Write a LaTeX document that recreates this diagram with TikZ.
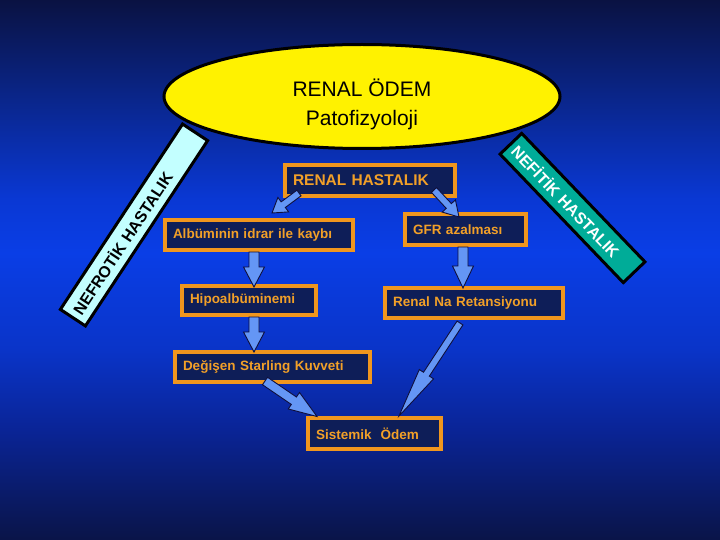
\documentclass[tikz,border=0pt]{standalone}
\usepackage{fontspec}
\setmainfont{Liberation Sans}
\usetikzlibrary{shapes.geometric,calc}
\definecolor{bgA}{RGB}{10,20,72}
\definecolor{bgB}{RGB}{10,26,100}
\definecolor{bgC}{RGB}{10,36,150}
\definecolor{bgD}{RGB}{10,52,200}
\definecolor{bgE}{RGB}{10,62,230}
\definecolor{bgF}{RGB}{10,56,212}
\definecolor{bgG}{RGB}{10,38,140}
\definecolor{bgH}{RGB}{10,18,66}
\definecolor{boxorange}{RGB}{240,150,30}
\definecolor{boxnavy}{RGB}{14,30,88}
\definecolor{textorange}{RGB}{242,160,40}
\definecolor{arrowfill}{RGB}{100,150,245}
\definecolor{arrowline}{RGB}{15,15,60}
\definecolor{bandcyan}{RGB}{195,255,255}
\definecolor{bandteal}{RGB}{0,172,152}
\pgfdeclareverticalshading{bgshade}{100bp}{color(0bp)=(bgA); color(25bp)=(bgA); color(28.7bp)=(bgB); color(35.2bp)=(bgC); color(42.6bp)=(bgD); color(51.6bp)=(bgE); color(56.5bp)=(bgF); color(65.7bp)=(bgG); color(75bp)=(bgH); color(100bp)=(bgH)}
\tikzset{
  flowbox/.style={draw=boxorange, fill=boxnavy, line width=4pt, text=textorange,
    font=\fontsize{13.5}{16}\selectfont\bfseries, inner xsep=8pt, inner ysep=0pt, align=left},
  band/.style={draw=black, line width=3pt, inner xsep=6pt, inner ysep=0pt,
    minimum height=30pt, align=left, font=\fontsize{16}{18}\selectfont\bfseries},
  blockarr/.style={fill=arrowfill, draw=arrowline, line width=0.9pt, line join=miter}
}
\newcommand\bkarrow[5]{%
  \coordinate (bkhb) at ($(#2)!#5!(#1)$);
  \filldraw[blockarr] ($(#1)!#3!90:(#2)$) -- ($(bkhb)!#3!90:(#2)$) -- ($(bkhb)!#4!90:(#2)$)
    -- (#2) -- ($(bkhb)!#4!-90:(#2)$) -- ($(bkhb)!#3!-90:(#2)$) -- ($(#1)!#3!-90:(#2)$) -- cycle;
}
\begin{document}
\begin{tikzpicture}[x=1pt,y=-1pt]
\useasboundingbox (0,0) rectangle (720,540);
\shade[shading=bgshade] (0,0) rectangle (720,540);

% side bands
\node[band, fill=bandcyan, text=black, rotate=56.6, minimum width=222pt, text width=210pt]
  (nefrotik) at (134,225) {NEFROTİK HASTALIK};
\node[band, fill=bandteal, text=white, rotate=-46.2, minimum width=178pt, text width=166pt]
  (nefritik) at (572.5,208) {NEFİTİK HASTALIK};

% title ellipse
\node[ellipse, draw=black, line width=3pt, fill=yellow, inner sep=2pt,
  minimum width=396pt, minimum height=104pt, align=center,
  font=\fontsize{21}{28.5}\selectfont] (title) at (362,96.5)
  {\rule{0pt}{33pt}RENAL ÖDEM\\Patofizyoloji};

% boxes
\node[flowbox, minimum width=170pt, minimum height=31pt, text width=154pt,
  font=\fontsize{15.5}{18}\selectfont\bfseries] (rh) at (370,180.5) {RENAL HASTALIK};
\node[flowbox, minimum width=188pt, minimum height=30pt, text width=172pt] (alb) at (259,235) {Albüminin idrar ile kaybı};
\node[flowbox, minimum width=121pt, minimum height=31pt, text width=105pt] (gfr) at (465.5,229.5) {GFR azalması};
\node[flowbox, minimum width=134pt, minimum height=29pt, text width=118pt] (hipo) at (249,300.5) {Hipoalbüminemi};
\node[flowbox, minimum width=178pt, minimum height=30pt, text width=162pt] (na) at (474,303) {Renal Na Retansiyonu};
\node[flowbox, minimum width=195pt, minimum height=30pt, text width=179pt] (deg) at (272.5,367) {Değişen Starling Kuvveti};
\node[flowbox, minimum width=133pt, minimum height=31pt, text width=117pt] (sis) at (374.5,433.5) {Sistemik\ \ Ödem};

% arrow end points
\coordinate (a1s) at (299,193);   \coordinate (a1e) at (272,213);
\coordinate (a2s) at (434,190);   \coordinate (a2e) at (459,217);
\coordinate (a3s) at (254,252);   \coordinate (a3e) at (254,287);
\coordinate (a4s) at (254,317);   \coordinate (a4e) at (254,352);
\coordinate (a5s) at (463,247);   \coordinate (a5e) at (463,288);
\coordinate (a6s) at (265,381);   \coordinate (a6e) at (317,416.5);
\coordinate (a7s) at (460,323);   \coordinate (a7e) at (399,416);

\bkarrow{a1s}{a1e}{3.5pt}{9pt}{14pt}
\bkarrow{a2s}{a2e}{3.5pt}{9pt}{15pt}
\bkarrow{a3s}{a3e}{5pt}{10.5pt}{20pt}
\bkarrow{a4s}{a4e}{5pt}{10.5pt}{20pt}
\bkarrow{a5s}{a5e}{5pt}{10.5pt}{22pt}
\bkarrow{a6s}{a6e}{4.5pt}{10pt}{28pt}
\bkarrow{a7s}{a7e}{3.5pt}{8.5pt}{50pt}
\end{tikzpicture}
\end{document}
